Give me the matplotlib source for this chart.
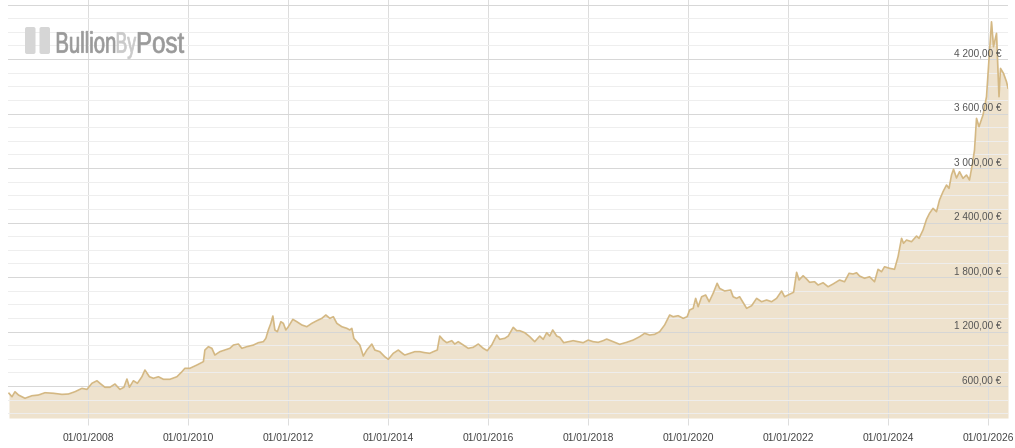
import matplotlib.pyplot as plt
from matplotlib.ticker import MultipleLocator
from matplotlib.textpath import TextPath
from matplotlib.font_manager import FontProperties
from matplotlib.patches import PathPatch, FancyBboxPatch
from matplotlib.transforms import Affine2D

plt.rcParams['font.family'] = ['Liberation Sans', 'DejaVu Sans']

# gold price in EUR (decimal year, price)
years = [2006.41, 2006.47, 2006.53, 2006.60, 2006.73, 2006.87, 2007.00, 2007.13, 2007.30, 2007.47,
         2007.60, 2007.73, 2007.87, 2007.97, 2008.07, 2008.17, 2008.23, 2008.33, 2008.43, 2008.53,
         2008.63, 2008.71, 2008.77, 2008.82, 2008.90, 2008.98, 2009.07, 2009.13, 2009.22, 2009.30,
         2009.40, 2009.50, 2009.63, 2009.77, 2009.87, 2009.93, 2010.03, 2010.17, 2010.30, 2010.33,
         2010.40, 2010.47, 2010.53, 2010.63, 2010.73, 2010.83, 2010.90, 2011.00, 2011.07, 2011.17,
         2011.30, 2011.40, 2011.50, 2011.55, 2011.60, 2011.65, 2011.69, 2011.73, 2011.78, 2011.85,
         2011.90, 2011.95, 2012.00, 2012.09, 2012.17, 2012.27, 2012.37, 2012.47, 2012.57, 2012.67,
         2012.75, 2012.83, 2012.90, 2012.97, 2013.07, 2013.17, 2013.23, 2013.27, 2013.31, 2013.37,
         2013.43, 2013.50, 2013.57, 2013.67, 2013.73, 2013.83, 2013.93, 2014.00, 2014.10, 2014.20,
         2014.30, 2014.33, 2014.43, 2014.53, 2014.63, 2014.73, 2014.83, 2014.90, 2014.98, 2015.03,
         2015.10, 2015.17, 2015.27, 2015.33, 2015.40, 2015.50, 2015.60, 2015.70, 2015.80, 2015.90,
         2015.98, 2016.07, 2016.17, 2016.23, 2016.33, 2016.40, 2016.50, 2016.57, 2016.63, 2016.73,
         2016.83, 2016.93, 2017.03, 2017.10, 2017.17, 2017.23, 2017.29, 2017.37, 2017.43, 2017.51,
         2017.60, 2017.70, 2017.80, 2017.90, 2018.00, 2018.10, 2018.20, 2018.30, 2018.37, 2018.50,
         2018.63, 2018.77, 2018.90, 2019.03, 2019.13, 2019.23, 2019.33, 2019.43, 2019.53, 2019.63,
         2019.70, 2019.80, 2019.90, 2019.98, 2020.03, 2020.10, 2020.15, 2020.20, 2020.27, 2020.35,
         2020.42, 2020.50, 2020.58, 2020.63, 2020.73, 2020.85, 2020.90, 2020.97, 2021.03, 2021.11,
         2021.17, 2021.27, 2021.37, 2021.47, 2021.57, 2021.67, 2021.77, 2021.87, 2021.93, 2022.03,
         2022.11, 2022.17, 2022.22, 2022.30, 2022.37, 2022.43, 2022.53, 2022.60, 2022.70, 2022.80,
         2022.90, 2023.03, 2023.13, 2023.22, 2023.30, 2023.37, 2023.43, 2023.53, 2023.63, 2023.73,
         2023.80, 2023.87, 2023.93, 2024.03, 2024.13, 2024.20, 2024.27, 2024.31, 2024.37, 2024.47,
         2024.57, 2024.62, 2024.70, 2024.77, 2024.83, 2024.90, 2024.97, 2025.03, 2025.10, 2025.17,
         2025.22, 2025.27, 2025.31, 2025.37, 2025.43, 2025.50, 2025.57, 2025.63, 2025.69, 2025.73,
         2025.77, 2025.82, 2025.90, 2025.97, 2026.02, 2026.07, 2026.11, 2026.17, 2026.22, 2026.25,
         2026.31, 2026.37, 2026.40]
prices = [520, 482, 537, 501, 465, 493, 501, 526, 520, 508,
          512, 537, 574, 563, 630, 658, 630, 586, 586, 622,
          563, 586, 677, 586, 658, 630, 702, 776, 702, 685,
          702, 674, 674, 702, 757, 795, 795, 831, 868, 996,
          1033, 1015, 941, 978, 996, 1015, 1051, 1062, 1015, 1033,
          1051, 1077, 1088, 1125, 1217, 1290, 1371, 1217, 1198, 1308,
          1290, 1217, 1253, 1334, 1308, 1272, 1253, 1290, 1319, 1345,
          1382, 1345, 1363, 1290, 1253, 1235, 1217, 1235, 1125, 1088,
          1051, 930, 996, 1062, 996, 978, 922, 894, 960, 996,
          952, 941, 960, 978, 978, 967, 960, 978, 996, 1150,
          1106, 1077, 1099, 1062, 1088, 1051, 1015, 1026, 1062, 1015,
          989, 1051, 1161, 1114, 1125, 1150, 1246, 1209, 1209, 1187,
          1143, 1088, 1150, 1114, 1187, 1150, 1217, 1150, 1136, 1077,
          1088, 1099, 1088, 1077, 1106, 1088, 1081, 1099, 1117, 1088,
          1059, 1081, 1106, 1143, 1180, 1161, 1169, 1198, 1272, 1382,
          1363, 1374, 1345, 1363, 1437, 1455, 1565, 1473, 1583, 1602,
          1528, 1620, 1731, 1675, 1646, 1657, 1583, 1565, 1583, 1510,
          1455, 1484, 1565, 1528, 1547, 1528, 1565, 1646, 1583, 1610,
          1632, 1852, 1767, 1814, 1778, 1742, 1748, 1712, 1737, 1693,
          1723, 1767, 1748, 1841, 1833, 1847, 1811, 1786, 1803, 1748,
          1885, 1858, 1913, 1896, 1885, 2023, 2226, 2171, 2207, 2189,
          2251, 2226, 2317, 2435, 2501, 2556, 2519, 2648, 2739, 2813,
          2776, 2923, 2986, 2890, 2959, 2886, 2923, 2868, 3052, 3198,
          3547, 3455, 3583, 3785, 4189, 4610, 4335, 4483, 3785, 4097,
          4042, 3950, 3880]

tick_years = [2008, 2010, 2012, 2014, 2016, 2018, 2020, 2022, 2024, 2026]
tick_labels = ['01/01/%d' % y for y in tick_years]
price_ticks = [600, 1200, 1800, 2400, 3000, 3600, 4200]
price_labels = ['600,00 €', '1 200,00 €', '1 800,00 €', '2 400,00 €',
                '3 000,00 €', '3 600,00 €', '4 200,00 €']

W, H = 1015, 448
fig = plt.figure(figsize=(W / 100, H / 100), dpi=100)
ax = fig.add_axes([8 / W, 30 / H, 1000 / W, 418 / H])

ymin, ymax = 248, 4850
ax.fill_between(years, prices, ymin, color='#c9a15a', alpha=0.3, lw=0)
ax.plot(years, prices, color='#d4b883', lw=1.2)

ax.set_xlim(2006.39, 2026.40)
ax.set_ylim(ymin, ymax)

# grid
ax.yaxis.set_major_locator(MultipleLocator(600))
ax.yaxis.set_minor_locator(MultipleLocator(150))
ax.grid(which='major', axis='y', color='#d6d6d6', lw=0.7)
ax.grid(which='minor', axis='y', color='#eeeeee', lw=0.7)
ax.tick_params(axis='y', which='both', length=0, labelleft=False)

ax.set_xticks(tick_years)
ax.set_xticklabels(tick_labels)
ax.grid(axis='x', color='#dcdcdc', lw=0.7)
ax.tick_params(axis='x', length=5, width=0.7, color='#dcdcdc', pad=6,
               labelsize=7.4, labelcolor='#444444')

for s in ax.spines.values():
    s.set_visible(False)

# price labels sit inside the plot, right aligned, just above their gridline
for v, lab in zip(price_ticks, price_labels):
    ax.annotate(lab, xy=(1, v), xycoords=('axes fraction', 'data'),
                xytext=(-4.5, 4.3), textcoords='offset points',
                ha='right', va='center', fontsize=7.2, color='#555555')

# logo
fp = FontProperties(family='Liberation Sans')
cap = TextPath((0, 0), 'B', size=1, prop=fp).get_extents().height


def logo_word(txt, x0, x1, color, base=52.7, cap_px=20.4):
    p = TextPath((0, 0), txt, size=1, prop=fp)
    ext = p.get_extents()
    sx = (x1 - x0) / ext.width
    sy = cap_px / cap
    tr = (Affine2D().translate(-ext.x0, 0).scale(sx / 100, sy / 100)
          .translate(x0 / 100, (H - base) / 100) + fig.dpi_scale_trans)
    fig.add_artist(PathPatch(p, transform=tr, facecolor=color,
                             edgecolor=color, lw=0.5))


logo_word('Bullion', 57, 115, '#9a9a9a')
logo_word('By', 117, 136, '#cacaca')
logo_word('Post', 138, 184, '#9a9a9a')

for bx in (25, 39.5):
    fig.add_artist(FancyBboxPatch((bx / 100, (H - 54) / 100), 10.5 / 100, 27 / 100,
                                  boxstyle='round,pad=0,rounding_size=0.02',
                                  transform=fig.dpi_scale_trans,
                                  facecolor='#d6d6d6', lw=0))

fig.savefig('out.png', dpi=100)
